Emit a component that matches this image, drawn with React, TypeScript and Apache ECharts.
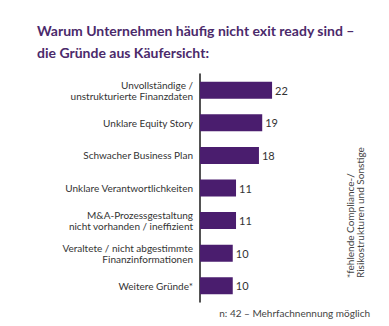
import React, { useEffect, useRef } from "react";
import * as echarts from "echarts";

const categories = [
  "Unvollständige /\nunstrukturierte Finanzdaten",
  "Unklare Equity Story",
  "Schwacher Business Plan",
  "Unklare Verantwortlichkeiten",
  "M&A-Prozessgestaltung\nnicht vorhanden / ineffizient",
  "Veraltete / nicht abgestimmte\nFinanzinformationen",
  "Weitere Gründe*",
];
const values = [22, 19, 18, 11, 11, 10, 10];
const titleLines = [
  "Warum Unternehmen häufig nicht exit ready sind –",
  "die Gründe aus Käufersicht:",
];
const footnote = "n: 42 – Mehrfachnennung möglich";
const sideNote = ["*fehlende Compliance-/", "Risikostrukturen und Sonstige"];

export default function App() {
  const ref = useRef<HTMLDivElement>(null);
  useEffect(() => {
    const chart = echarts.init(ref.current!, null, { renderer: "svg" });
    chart.setOption({
      animation: false,
      backgroundColor: "#ffffff",
      graphic: [
        {
          type: "text",
          left: 37,
          top: 19,
          style: {
            text: titleLines.join("\n"),
            font: "bold 14px Lato",
            lineHeight: 22,
            fill: "#4b2a6b",
          },
        },
        {
          type: "text",
          x: 370,
          y: 313,
          style: {
            text: footnote,
            font: "10px Lato",
            fill: "#444",
            textAlign: "right",
            textVerticalAlign: "middle",
          },
        },
        {
          type: "text",
          x: 345,
          y: 278,
          rotation: Math.PI / 2,
          style: {
            text: sideNote.join("\n"),
            font: "10px Lato",
            lineHeight: 10,
            fill: "#444",
            textAlign: "left",
            textVerticalAlign: "top",
          },
        },
      ],
      grid: { left: 200, top: 74, width: 131, height: 228, containLabel: false },
      xAxis: {
        type: "value",
        min: 0,
        max: 40,
        show: false,
      },
      yAxis: {
        type: "category",
        inverse: true,
        data: categories,
        axisLine: { show: true, lineStyle: { color: "#1a1a1a", width: 1.5 } },
        axisTick: { show: false },
        axisLabel: {
          color: "#333",
          fontFamily: "Lato",
          fontSize: 10,
          lineHeight: 11,
          margin: 7,
          align: "right",
        },
      },
      series: [
        {
          type: "bar",
          data: values,
          barWidth: 17,
          itemStyle: { color: "#4a1d6e" },
          label: {
            show: true,
            position: "right",
            distance: 3,
            color: "#333",
            fontFamily: "Lato",
            fontSize: 11,
          },
        },
      ],
    });
    return () => chart.dispose();
  }, []);
  return <div ref={ref} style={{ width: 389, height: 326, position: "absolute", left: 0, top: 0 }} />;
}
